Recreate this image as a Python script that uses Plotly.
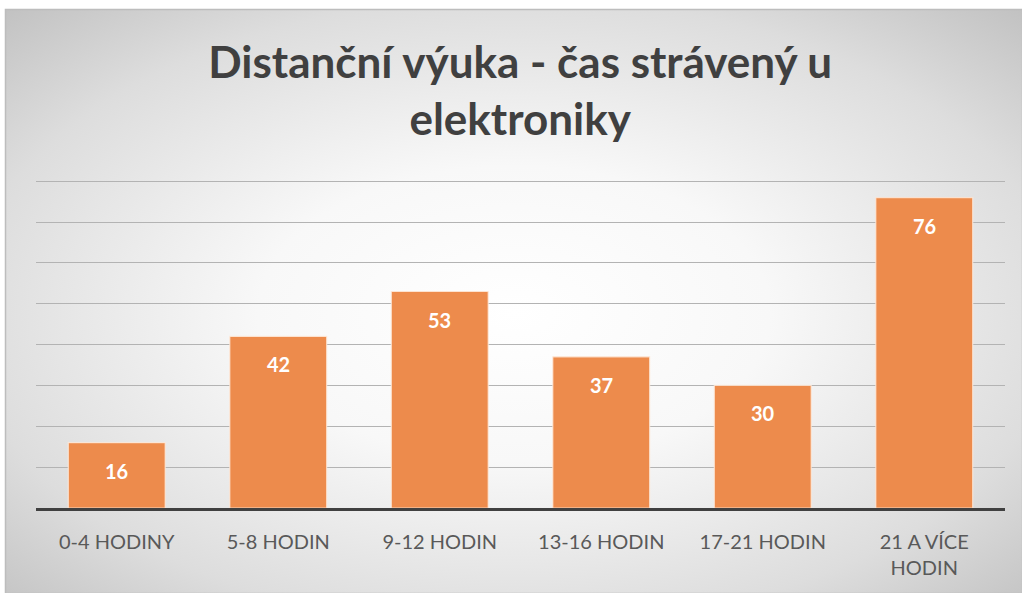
import base64
import plotly.graph_objects as go

categories = ["0-4 HODINY", "5-8 HODIN", "9-12 HODIN", "13-16 HODIN", "17-21 HODIN", "21 A VÍCE<br>HODIN"]
values = [16, 42, 53, 37, 30, 76]
title_text = "Distanční výuka - čas strávený u<br>elektroniky"

W, H = 1022, 593
ML, MR, MT, MB = 36, 17, 180, 85
pw, ph = W - ML - MR, H - MT - MB
YMAX = 80.3

svg = f'''<svg xmlns="http://www.w3.org/2000/svg" width="{W}" height="{H}" viewBox="0 0 {W} {H}">
<defs><radialGradient id="g" cx="50%" cy="52%" r="72%">
<stop offset="0" stop-color="#ffffff"/>
<stop offset="0.35" stop-color="#f8f8f8"/>
<stop offset="0.75" stop-color="#dddddd"/>
<stop offset="1" stop-color="#c2c2c2"/>
</radialGradient></defs>
<rect x="0" y="0" width="{W}" height="{H}" fill="#ffffff"/>
<rect x="5.5" y="9.5" width="{W-5}" height="{H-9}" fill="url(#g)" stroke="#bdbdbd" stroke-width="1.5"/>
</svg>'''
src = "data:image/svg+xml;base64," + base64.b64encode(svg.encode()).decode()

fig = go.Figure()
fig.add_trace(go.Bar(
    x=categories, y=values,
    marker=dict(color="#ED8B4C", line=dict(color="rgba(255,235,220,0.8)", width=1.2)),
    hoverinfo="skip",
))

for c, v in zip(categories, values):
    fig.add_annotation(x=c, y=v, text=f"<b>{v}</b>", showarrow=False,
                       yshift=-28, font=dict(family="Lato, Open Sans, sans-serif", size=20, color="white"))

fig.add_layout_image(dict(
    source=src, xref="paper", yref="paper",
    x=-ML / pw, y=1 + MT / ph, sizex=W / pw, sizey=H / ph,
    xanchor="left", yanchor="top", sizing="stretch", layer="below",
))

fig.update_layout(
    width=W, height=H,
    margin=dict(l=ML, r=MR, t=MT, b=MB),
    paper_bgcolor="white", plot_bgcolor="rgba(0,0,0,0)",
    bargap=0.4, showlegend=False,
    title=dict(text=f"<b>{title_text}</b>", x=0.509, xanchor="center",
               xref="container", yref="container", y=0.869, yanchor="middle",
               font=dict(family="Lato, Open Sans, sans-serif", size=44, color="#404040")),
    xaxis=dict(showline=True, linewidth=3, linecolor="#404040", ticks="",
               ticklabelstandoff=14,
               tickfont=dict(family="Lato, Open Sans, sans-serif", size=20, color="#595959"),
               showgrid=False, fixedrange=True),
    yaxis=dict(range=[0, YMAX], dtick=10, showticklabels=False, showgrid=True,
               gridcolor="#b3b3b3", gridwidth=1, zeroline=False, fixedrange=True),
)

fig.write_html("out.html", config={"displayModeBar": False},
               post_script="document.body.style.margin='0';document.body.style.overflow='hidden';")
